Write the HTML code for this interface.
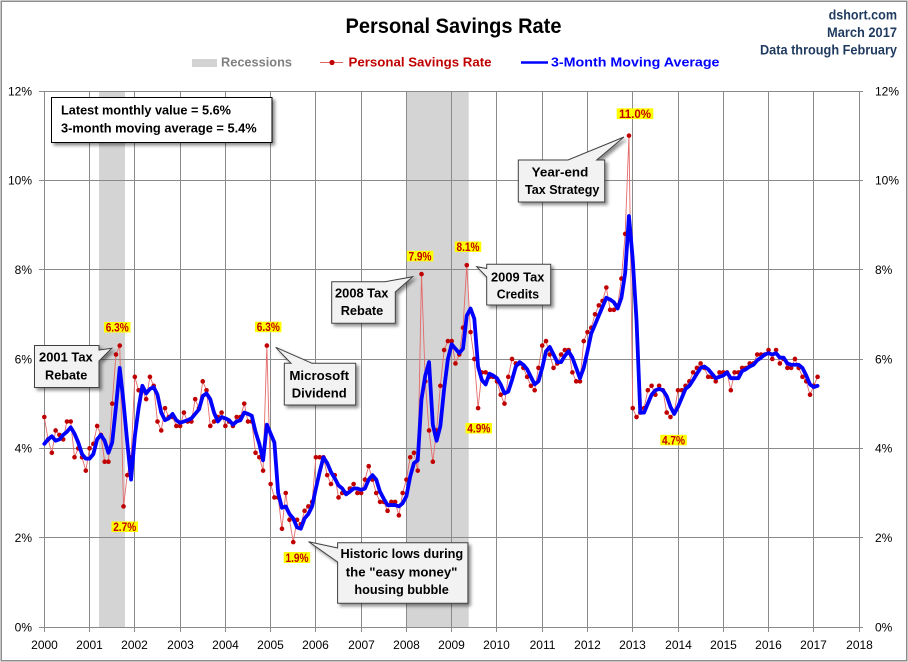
<!DOCTYPE html>
<html>
<head>
<meta charset="utf-8">
<style>
  html,body{margin:0;padding:0;background:#fff;}
  svg{display:block;}
  text{font-family:"Liberation Sans",Arial,sans-serif;}
</style>
</head>
<body>
<svg width="908" height="662" viewBox="0 0 908 662" xmlns="http://www.w3.org/2000/svg">
  <defs>
    <filter id="sh" x="-20%" y="-20%" width="150%" height="150%">
      <feDropShadow dx="2.5" dy="2.5" stdDeviation="1.5" flood-color="#000" flood-opacity="0.45"/>
    </filter>
  </defs>

  <rect x="0" y="0" width="908" height="662" fill="#fff"/>
  <rect x="1.25" y="1.25" width="905.5" height="659.5" fill="none" stroke="#8c8c8c" stroke-width="1.5"/>

  <!-- Title -->
  <text x="453.5" y="33" font-size="21" font-weight="bold" text-anchor="middle" textLength="216" lengthAdjust="spacingAndGlyphs" fill="#000">Personal Savings Rate</text>

  <!-- Top-right -->
  <g font-size="13.5" font-weight="bold" fill="#1f3a5f" text-anchor="end">
    <text x="897" y="19.3" textLength="68.4" lengthAdjust="spacingAndGlyphs">dshort.com</text>
    <text x="897" y="37" textLength="70" lengthAdjust="spacingAndGlyphs">March 2017</text>
    <text x="897" y="54.5" textLength="137" lengthAdjust="spacingAndGlyphs">Data through February</text>
  </g>

  <!-- Legend -->
  <rect x="192" y="59" width="25" height="8" fill="#d3d3d3"/>
  <text x="221" y="66.7" font-size="13" font-weight="bold" fill="#808080" textLength="71" lengthAdjust="spacingAndGlyphs">Recessions</text>
  <line x1="320" y1="62.5" x2="343" y2="62.5" stroke="#e06666" stroke-width="1"/>
  <circle cx="332" cy="62.5" r="2.6" fill="#c00000"/>
  <text x="348.5" y="66.7" font-size="13" font-weight="bold" fill="#c00000" textLength="143" lengthAdjust="spacingAndGlyphs">Personal Savings Rate</text>
  <line x1="521" y1="62.5" x2="548" y2="62.5" stroke="#0000ff" stroke-width="2.5"/>
  <text x="551" y="66.7" font-size="13" font-weight="bold" fill="#0000ff" textLength="168.5" lengthAdjust="spacingAndGlyphs">3-Month Moving Average</text>

  <!-- Recession bands -->
  <rect x="99" y="91" width="26" height="536" fill="#d4d4d4"/>
  <rect x="406" y="91" width="62.7" height="536" fill="#d4d4d4"/>

  <!-- Gridlines -->
  <g stroke="#8a8a8a" stroke-width="1" fill="none">
    <line x1="39" y1="627.5" x2="863" y2="627.5"/>
    <line x1="39" y1="537.5" x2="863" y2="537.5"/>
    <line x1="39" y1="448.5" x2="863" y2="448.5"/>
    <line x1="39" y1="359.5" x2="863" y2="359.5"/>
    <line x1="39" y1="269.5" x2="863" y2="269.5"/>
    <line x1="39" y1="180.5" x2="863" y2="180.5"/>
    <line x1="39" y1="91.5" x2="863" y2="91.5"/>
    <line x1="44.5" y1="91" x2="44.5" y2="632"/>
    <line x1="89.5" y1="91" x2="89.5" y2="632"/>
    <line x1="134.5" y1="91" x2="134.5" y2="632"/>
    <line x1="180.5" y1="91" x2="180.5" y2="632"/>
    <line x1="225.5" y1="91" x2="225.5" y2="632"/>
    <line x1="270.5" y1="91" x2="270.5" y2="632"/>
    <line x1="315.5" y1="91" x2="315.5" y2="632"/>
    <line x1="361.5" y1="91" x2="361.5" y2="632"/>
    <line x1="406.5" y1="91" x2="406.5" y2="632"/>
    <line x1="451.5" y1="91" x2="451.5" y2="632"/>
    <line x1="496.5" y1="91" x2="496.5" y2="632"/>
    <line x1="542.5" y1="91" x2="542.5" y2="632"/>
    <line x1="587.5" y1="91" x2="587.5" y2="632"/>
    <line x1="632.5" y1="91" x2="632.5" y2="632"/>
    <line x1="678.5" y1="91" x2="678.5" y2="632"/>
    <line x1="723.5" y1="91" x2="723.5" y2="632"/>
    <line x1="768.5" y1="91" x2="768.5" y2="632"/>
    <line x1="813.5" y1="91" x2="813.5" y2="632"/>
    <line x1="859.5" y1="91" x2="859.5" y2="632"/>
  </g>

  <!-- Left axis labels -->
  <g font-size="12" fill="#000" text-anchor="end">
    <text x="32" y="631.5">0%</text>
    <text x="32" y="542">2%</text>
    <text x="32" y="452.5">4%</text>
    <text x="32" y="363.5">6%</text>
    <text x="32" y="274">8%</text>
    <text x="32" y="184.5">10%</text>
    <text x="32" y="95.5">12%</text>
  </g>
  <!-- Right axis labels -->
  <g font-size="12" fill="#000" text-anchor="start">
    <text x="875" y="631.5">0%</text>
    <text x="875" y="542">2%</text>
    <text x="875" y="452.5">4%</text>
    <text x="875" y="363.5">6%</text>
    <text x="875" y="274">8%</text>
    <text x="875" y="184.5">10%</text>
    <text x="875" y="95.5">12%</text>
  </g>
  <!-- X axis labels -->
  <g font-size="12" fill="#000" text-anchor="middle">
    <text x="44.5" y="649">2000</text>
    <text x="89.5" y="649">2001</text>
    <text x="134.5" y="649">2002</text>
    <text x="180.5" y="649">2003</text>
    <text x="225.5" y="649">2004</text>
    <text x="270.5" y="649">2005</text>
    <text x="315.5" y="649">2006</text>
    <text x="361.5" y="649">2007</text>
    <text x="406.5" y="649">2008</text>
    <text x="451.5" y="649">2009</text>
    <text x="496.5" y="649">2010</text>
    <text x="542.5" y="649">2011</text>
    <text x="587.5" y="649">2012</text>
    <text x="632.5" y="649">2013</text>
    <text x="678.5" y="649">2014</text>
    <text x="723.5" y="649">2015</text>
    <text x="768.5" y="649">2016</text>
    <text x="813.5" y="649">2017</text>
    <text x="859.5" y="649">2018</text>
  </g>

  <!-- Data series -->
  <g transform="matrix(3.772 0 0 -44.67 44.3 627)">
    <polyline fill="none" stroke="#e46a6a" stroke-width="0.9" vector-effect="non-scaling-stroke" stroke-linejoin="round"
      points="0,4.7 1,4.2 2,3.9 3,4.4 4,4.3 5,4.2 6,4.6 7,4.6 8,3.8 9,4.0 10,3.8 11,3.5 12,4.0 13,4.1 14,4.5 15,4.3 16,3.7 17,3.7 18,5.0 19,6.1 20,6.3 21,2.7 22,3.4 23,3.8 24,5.6 25,5.3 26,5.3 27,5.1 28,5.6 29,5.4 30,4.6 31,4.4 32,4.9 33,4.7 34,4.7 35,4.5 36,4.5 37,4.8 38,4.6 39,4.6 40,5.1 41,4.9 42,5.5 43,5.3 44,4.5 45,4.6 46,4.7 47,4.8 48,4.5 49,4.6 50,4.5 51,4.7 52,4.7 53,5.0 54,4.6 55,4.6 56,3.9 57,3.8 58,3.5 59,6.3 60,3.2 61,2.9 62,2.9 63,2.2 64,3.0 65,2.4 66,1.9 67,2.4 68,2.3 69,2.6 70,2.7 71,2.8 72,3.8 73,3.8 74,3.8 75,3.4 76,3.2 77,3.4 78,2.9 79,3.0 80,3.0 81,3.1 82,3.2 83,3.0 84,3.0 85,3.3 86,3.6 87,3.3 88,3.0 89,2.8 90,2.8 91,2.6 92,2.8 93,2.8 94,2.5 95,3.0 96,3.3 97,3.8 98,3.9 99,3.5 100,7.9 101,5.5 102,4.4 103,3.7 104,4.4 105,5.4 106,6.2 107,6.4 108,6.4 109,5.9 110,6.1 111,6.7 112,8.1 113,6.6 114,6.0 115,4.9 116,5.7 117,5.7 118,5.6 119,5.6 120,5.5 121,5.2 122,5.0 123,5.6 124,6.0 125,5.9 126,5.9 127,5.8 128,5.6 129,5.4 130,5.3 131,5.8 132,6.3 133,6.4 134,6.1 135,5.8 136,5.9 137,6.1 138,6.2 139,6.2 140,5.7 141,5.5 142,5.5 143,6.4 144,6.6 145,6.7 146,7.0 147,7.2 148,7.3 149,7.6 150,7.1 151,7.1 152,7.2 153,7.8 154,8.8 155,11.0 156,4.9 157,4.7 158,4.8 159,4.9 160,5.3 161,5.4 162,5.2 163,5.4 164,5.3 165,4.8 166,4.7 167,4.8 168,5.3 169,5.3 170,5.4 171,5.5 172,5.7 173,5.8 174,5.9 175,5.8 176,5.6 177,5.6 178,5.5 179,5.7 180,5.7 181,5.7 182,5.3 183,5.7 184,5.7 185,5.8 186,5.8 187,5.9 188,5.9 189,6.1 190,6.1 191,6.1 192,6.2 193,6.0 194,6.2 195,5.9 196,6.0 197,5.8 198,5.8 199,6.0 200,5.8 201,5.6 202,5.5 203,5.2 204,5.4 205,5.6"/>
    <path fill="none" stroke="#c00000" stroke-width="4.6" stroke-linecap="round" vector-effect="non-scaling-stroke"
      d="M0 4.7h.01M1 4.2h.01M2 3.9h.01M3 4.4h.01M4 4.3h.01M5 4.2h.01M6 4.6h.01M7 4.6h.01M8 3.8h.01M9 4.0h.01M10 3.8h.01M11 3.5h.01M12 4.0h.01M13 4.1h.01M14 4.5h.01M15 4.3h.01M16 3.7h.01M17 3.7h.01M18 5.0h.01M19 6.1h.01M20 6.3h.01M21 2.7h.01M22 3.4h.01M23 3.8h.01M24 5.6h.01M25 5.3h.01M26 5.3h.01M27 5.1h.01M28 5.6h.01M29 5.4h.01M30 4.6h.01M31 4.4h.01M32 4.9h.01M33 4.7h.01M34 4.7h.01M35 4.5h.01M36 4.5h.01M37 4.8h.01M38 4.6h.01M39 4.6h.01M40 5.1h.01M41 4.9h.01M42 5.5h.01M43 5.3h.01M44 4.5h.01M45 4.6h.01M46 4.7h.01M47 4.8h.01M48 4.5h.01M49 4.6h.01M50 4.5h.01M51 4.7h.01M52 4.7h.01M53 5.0h.01M54 4.6h.01M55 4.6h.01M56 3.9h.01M57 3.8h.01M58 3.5h.01M59 6.3h.01M60 3.2h.01M61 2.9h.01M62 2.9h.01M63 2.2h.01M64 3.0h.01M65 2.4h.01M66 1.9h.01M67 2.4h.01M68 2.3h.01M69 2.6h.01M70 2.7h.01M71 2.8h.01M72 3.8h.01M73 3.8h.01M74 3.8h.01M75 3.4h.01M76 3.2h.01M77 3.4h.01M78 2.9h.01M79 3.0h.01M80 3.0h.01M81 3.1h.01M82 3.2h.01M83 3.0h.01M84 3.0h.01M85 3.3h.01M86 3.6h.01M87 3.3h.01M88 3.0h.01M89 2.8h.01M90 2.8h.01M91 2.6h.01M92 2.8h.01M93 2.8h.01M94 2.5h.01M95 3.0h.01M96 3.3h.01M97 3.8h.01M98 3.9h.01M99 3.5h.01M100 7.9h.01M101 5.5h.01M102 4.4h.01M103 3.7h.01M104 4.4h.01M105 5.4h.01M106 6.2h.01M107 6.4h.01M108 6.4h.01M109 5.9h.01M110 6.1h.01M111 6.7h.01M112 8.1h.01M113 6.6h.01M114 6.0h.01M115 4.9h.01M116 5.7h.01M117 5.7h.01M118 5.6h.01M119 5.6h.01M120 5.5h.01M121 5.2h.01M122 5.0h.01M123 5.6h.01M124 6.0h.01M125 5.9h.01M126 5.9h.01M127 5.8h.01M128 5.6h.01M129 5.4h.01M130 5.3h.01M131 5.8h.01M132 6.3h.01M133 6.4h.01M134 6.1h.01M135 5.8h.01M136 5.9h.01M137 6.1h.01M138 6.2h.01M139 6.2h.01M140 5.7h.01M141 5.5h.01M142 5.5h.01M143 6.4h.01M144 6.6h.01M145 6.7h.01M146 7.0h.01M147 7.2h.01M148 7.3h.01M149 7.6h.01M150 7.1h.01M151 7.1h.01M152 7.2h.01M153 7.8h.01M154 8.8h.01M155 11.0h.01M156 4.9h.01M157 4.7h.01M158 4.8h.01M159 4.9h.01M160 5.3h.01M161 5.4h.01M162 5.2h.01M163 5.4h.01M164 5.3h.01M165 4.8h.01M166 4.7h.01M167 4.8h.01M168 5.3h.01M169 5.3h.01M170 5.4h.01M171 5.5h.01M172 5.7h.01M173 5.8h.01M174 5.9h.01M175 5.8h.01M176 5.6h.01M177 5.6h.01M178 5.5h.01M179 5.7h.01M180 5.7h.01M181 5.7h.01M182 5.3h.01M183 5.7h.01M184 5.7h.01M185 5.8h.01M186 5.8h.01M187 5.9h.01M188 5.9h.01M189 6.1h.01M190 6.1h.01M191 6.1h.01M192 6.2h.01M193 6.0h.01M194 6.2h.01M195 5.9h.01M196 6.0h.01M197 5.8h.01M198 5.8h.01M199 6.0h.01M200 5.8h.01M201 5.6h.01M202 5.5h.01M203 5.2h.01M204 5.4h.01M205 5.6h.01"/>
    <polyline fill="none" stroke="#0000ff" stroke-width="3.8" vector-effect="non-scaling-stroke" stroke-linejoin="round" stroke-linecap="round"
      points="0,4.10 1,4.20 2,4.27 3,4.17 4,4.20 5,4.30 6,4.37 7,4.47 8,4.33 9,4.13 10,3.87 11,3.77 12,3.77 13,3.87 14,4.20 15,4.30 16,4.17 17,3.90 18,4.13 19,4.93 20,5.80 21,5.03 22,4.13 23,3.30 24,4.27 25,4.90 26,5.40 27,5.23 28,5.33 29,5.37 30,5.20 31,4.80 32,4.63 33,4.67 34,4.77 35,4.63 36,4.57 37,4.60 38,4.63 39,4.67 40,4.77 41,4.87 42,5.17 43,5.23 44,5.10 45,4.80 46,4.60 47,4.70 48,4.67 49,4.63 50,4.53 51,4.60 52,4.63 53,4.80 54,4.77 55,4.73 56,4.37 57,4.10 58,3.73 59,4.53 60,4.33 61,4.13 62,3.00 63,2.67 64,2.70 65,2.53 66,2.43 67,2.23 68,2.20 69,2.43 70,2.53 71,2.70 72,3.10 73,3.47 74,3.80 75,3.67 76,3.47 77,3.33 78,3.17 79,3.10 80,2.97 81,3.03 82,3.10 83,3.10 84,3.07 85,3.10 86,3.30 87,3.40 88,3.30 89,3.03 90,2.87 91,2.73 92,2.73 93,2.73 94,2.70 95,2.77 96,2.93 97,3.37 98,3.67 99,3.73 100,5.10 101,5.63 102,5.93 103,4.53 104,4.17 105,4.50 106,5.33 107,6.00 108,6.33 109,6.23 110,6.13 111,6.23 112,6.97 113,7.13 114,6.90 115,5.83 116,5.53 117,5.43 118,5.67 119,5.63 120,5.57 121,5.43 122,5.23 123,5.27 124,5.53 125,5.83 126,5.93 127,5.87 128,5.77 129,5.60 130,5.43 131,5.50 132,5.80 133,6.17 134,6.27 135,6.10 136,5.93 137,5.93 138,6.07 139,6.17 140,6.03 141,5.80 142,5.57 143,5.80 144,6.17 145,6.57 146,6.77 147,6.97 148,7.17 149,7.37 150,7.33 151,7.27 152,7.13 153,7.37 154,7.93 155,9.20 156,8.23 157,6.87 158,4.80 159,4.80 160,5.00 161,5.20 162,5.30 163,5.33 164,5.30 165,5.17 166,4.93 167,4.77 168,4.93 169,5.13 170,5.33 171,5.40 172,5.53 173,5.67 174,5.80 175,5.83 176,5.77 177,5.67 178,5.57 179,5.60 180,5.63 181,5.70 182,5.57 183,5.57 184,5.57 185,5.73 186,5.77 187,5.83 188,5.87 189,5.97 190,6.03 191,6.10 192,6.13 193,6.10 194,6.13 195,6.03 196,6.03 197,5.90 198,5.87 199,5.87 200,5.87 201,5.80 202,5.63 203,5.43 204,5.37 205,5.40"/>
  </g>

  <!-- Latest value box -->
  <rect x="51.5" y="97.5" width="220.5" height="45" fill="#fff" stroke="#000" stroke-width="1" filter="url(#sh)"/>
  <text x="61" y="114.5" font-size="13" font-weight="bold" fill="#000" textLength="170" lengthAdjust="spacingAndGlyphs">Latest monthly value = 5.6%</text>
  <text x="61" y="132.5" font-size="13" font-weight="bold" fill="#000" textLength="195.7" lengthAdjust="spacingAndGlyphs">3-month moving average = 5.4%</text>

  <!-- Callouts -->
  <g fill="#f2f2f2" stroke="#404040" stroke-width="1" filter="url(#sh)">
    <polygon points="34.5,345.5 99,345.5 99,350 111.7,348.3 99,361 99,387.5 34.5,387.5"/>
    <polygon points="331.7,281.7 385,281.7 412.7,276.7 395.3,292 395.3,323.3 331.7,323.3"/>
    <polygon points="486.7,264.3 550.7,264.3 550.7,305 486.7,305 486.7,277 476.7,266.7 486.7,268.5"/>
    <polygon points="284.3,363.3 291,363.3 275.7,347.3 312,363.3 355.7,363.3 355.7,405 284.3,405"/>
    <polygon points="518.3,160 568,160 624,137 596.7,160 604.7,160 604.7,202 518.3,202"/>
    <polygon points="337.6,542.7 467.9,542.7 467.9,603.3 337.6,603.3 337.6,562 308.6,541.7 337.6,548"/>
  </g>
  <g font-size="13" font-weight="bold" fill="#000" text-anchor="middle">
    <text x="65.9" y="361.7" textLength="53.7" lengthAdjust="spacingAndGlyphs">2001 Tax</text>
    <text x="66.2" y="379.3" textLength="42.3" lengthAdjust="spacingAndGlyphs">Rebate</text>
    <text x="361.7" y="297.3" textLength="53.3" lengthAdjust="spacingAndGlyphs">2008 Tax</text>
    <text x="362" y="315" textLength="42.6" lengthAdjust="spacingAndGlyphs">Rebate</text>
    <text x="517.7" y="281.7" textLength="53.3" lengthAdjust="spacingAndGlyphs">2009 Tax</text>
    <text x="517.9" y="298.3" textLength="42.3" lengthAdjust="spacingAndGlyphs">Credits</text>
    <text x="319.2" y="380" textLength="59.7" lengthAdjust="spacingAndGlyphs">Microsoft</text>
    <text x="319.2" y="397.3" textLength="55" lengthAdjust="spacingAndGlyphs">Dividend</text>
    <text x="560" y="176.7" textLength="56.6" lengthAdjust="spacingAndGlyphs">Year-end</text>
    <text x="562.2" y="194" textLength="74.3" lengthAdjust="spacingAndGlyphs">Tax Strategy</text>
    <text x="401.9" y="558" textLength="122.7" lengthAdjust="spacingAndGlyphs">Historic lows during</text>
    <text x="401.6" y="576.5" textLength="111.7" lengthAdjust="spacingAndGlyphs">the "easy money"</text>
    <text x="401.6" y="594" textLength="94.4" lengthAdjust="spacingAndGlyphs">housing bubble</text>
  </g>

  <!-- Data labels -->
  <g fill="#ffff00">
    <rect x="104" y="322" width="26.5" height="10.5"/>
    <rect x="111.5" y="521.5" width="26.5" height="10.5"/>
    <rect x="255" y="321.7" width="26.5" height="10.5"/>
    <rect x="283.7" y="552" width="26.5" height="11"/>
    <rect x="406.8" y="250.8" width="26.5" height="10.5"/>
    <rect x="454.8" y="241.5" width="26.5" height="10.5"/>
    <rect x="465.5" y="423" width="26.5" height="10.5"/>
    <rect x="616.7" y="108.3" width="36.6" height="10.8"/>
    <rect x="660.3" y="434.8" width="26.5" height="10.5"/>
  </g>
  <g font-size="12" font-weight="bold" fill="#c00000" text-anchor="middle">
    <text x="117.2" y="331.5" textLength="23" lengthAdjust="spacingAndGlyphs">6.3%</text>
    <text x="124.7" y="531" textLength="23" lengthAdjust="spacingAndGlyphs">2.7%</text>
    <text x="268.3" y="331.2" textLength="23" lengthAdjust="spacingAndGlyphs">6.3%</text>
    <text x="297" y="561.8" textLength="23" lengthAdjust="spacingAndGlyphs">1.9%</text>
    <text x="420" y="260.3" textLength="23" lengthAdjust="spacingAndGlyphs">7.9%</text>
    <text x="468" y="251" textLength="23" lengthAdjust="spacingAndGlyphs">8.1%</text>
    <text x="478.8" y="432.6" textLength="23" lengthAdjust="spacingAndGlyphs">4.9%</text>
    <text x="635" y="118.2" textLength="32" lengthAdjust="spacingAndGlyphs">11.0%</text>
    <text x="673.5" y="444.3" textLength="23" lengthAdjust="spacingAndGlyphs">4.7%</text>
  </g>
</svg>
</body>
</html>
